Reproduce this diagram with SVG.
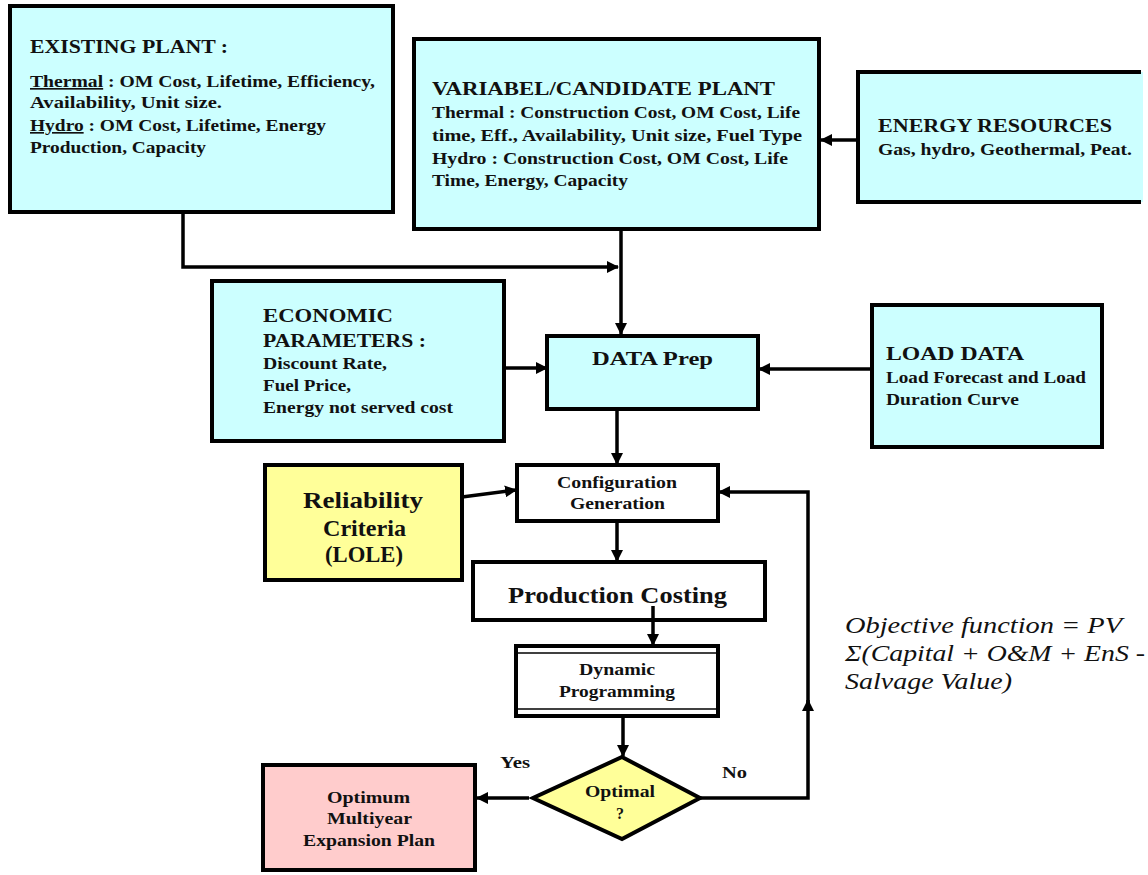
<svg xmlns="http://www.w3.org/2000/svg" width="1148" height="875" viewBox="0 0 1148 875">
<style>
.box{stroke:#000;stroke-width:4}
.cyan{fill:#ccffff}
.yel{fill:#ffff99}
.pink{fill:#ffcccc}
.white{fill:#fff}
text{font-family:"Liberation Serif","Times New Roman",serif;font-weight:bold;fill:#111}
.t{font-size:19.5px}
.b{font-size:16.5px}
.s{font-size:16px}
.c{text-anchor:middle}
.obj{font-size:24px;font-weight:normal;font-style:italic}
.conn path,.conn line,.conn polyline{fill:none;stroke:#000;stroke-width:3.5}
</style>
<defs>
<marker id="ah" viewBox="0 0 12 12" refX="11" refY="6" markerWidth="12" markerHeight="12" markerUnits="userSpaceOnUse" orient="auto">
<path d="M0,0 L12,6 L0,12 z" fill="#000"/>
</marker>
</defs>
<rect width="1148" height="875" fill="#fff"/>

<g class="conn">
<polyline points="183,212 183,267 618,267" marker-end="url(#ah)"/>
<line x1="621" y1="230" x2="621" y2="334" marker-end="url(#ah)"/>
<line x1="858" y1="140" x2="821" y2="140" marker-end="url(#ah)"/>
<line x1="505" y1="368" x2="547" y2="368" marker-end="url(#ah)"/>
<line x1="872" y1="369" x2="759" y2="369" marker-end="url(#ah)"/>
<line x1="617" y1="409" x2="617" y2="464" marker-end="url(#ah)"/>
<line x1="462" y1="497" x2="516" y2="490" marker-end="url(#ah)"/>
<line x1="617" y1="521" x2="617" y2="561" marker-end="url(#ah)"/>
<line x1="653" y1="608" x2="653" y2="645" marker-end="url(#ah)"/>
<line x1="623" y1="716" x2="623" y2="756" marker-end="url(#ah)"/>
<line x1="529" y1="798" x2="477" y2="798" marker-end="url(#ah)"/>
<polyline points="700,798 808,798 808,700" marker-end="url(#ah)"/>
<polyline points="808,703 808,492 719,492" marker-end="url(#ah)"/>
</g>

<g id="existing-plant">
<rect class="box cyan" x="10" y="6" width="383" height="206"/>
<text class="t" x="30" y="53" textLength="198" lengthAdjust="spacingAndGlyphs">EXISTING PLANT :</text>
<text class="b" x="30" y="87" textLength="345" lengthAdjust="spacingAndGlyphs"><tspan text-decoration="underline">Thermal</tspan> : OM Cost, Lifetime, Efficiency,</text>
<text class="b" x="30" y="108" textLength="192" lengthAdjust="spacingAndGlyphs">Availability, Unit size.</text>
<text class="b" x="30" y="131" textLength="296" lengthAdjust="spacingAndGlyphs"><tspan text-decoration="underline">Hydro</tspan> : OM Cost, Lifetime, Energy</text>
<text class="b" x="30" y="153" textLength="176" lengthAdjust="spacingAndGlyphs">Production, Capacity</text>
</g>

<g id="candidate-plant">
<rect class="box cyan" x="414" y="39" width="405" height="190"/>
<text class="t" x="432" y="95" textLength="343" lengthAdjust="spacingAndGlyphs">VARIABEL/CANDIDATE PLANT</text>
<text class="b" x="432" y="118" textLength="368" lengthAdjust="spacingAndGlyphs">Thermal : Construction Cost, OM Cost, Life</text>
<text class="b" x="432" y="141" textLength="370" lengthAdjust="spacingAndGlyphs">time, Eff., Availability, Unit size, Fuel Type</text>
<text class="b" x="432" y="164" textLength="356" lengthAdjust="spacingAndGlyphs">Hydro : Construction  Cost, OM Cost, Life</text>
<text class="b" x="432" y="186" textLength="196" lengthAdjust="spacingAndGlyphs">Time, Energy, Capacity</text>
</g>

<g id="energy-resources">
<rect class="cyan" x="858" y="72" width="285" height="130"/>
<path d="M1141,72 H858 V202 H1141" fill="none" stroke="#000" stroke-width="4"/>
<text class="t" x="878" y="132" textLength="234" lengthAdjust="spacingAndGlyphs">ENERGY RESOURCES</text>
<text class="b" x="878" y="155" textLength="254" lengthAdjust="spacingAndGlyphs">Gas, hydro, Geothermal, Peat.</text>
</g>

<g id="economic-parameters">
<rect class="box cyan" x="212" y="281" width="292" height="160"/>
<text class="t" x="263" y="322" textLength="130" lengthAdjust="spacingAndGlyphs">ECONOMIC</text>
<text class="t" x="263" y="347" textLength="163" lengthAdjust="spacingAndGlyphs">PARAMETERS :</text>
<text class="b" x="263" y="369" textLength="124" lengthAdjust="spacingAndGlyphs">Discount Rate,</text>
<text class="b" x="263" y="391" textLength="88" lengthAdjust="spacingAndGlyphs">Fuel Price,</text>
<text class="b" x="263" y="413" textLength="190" lengthAdjust="spacingAndGlyphs">Energy not served cost</text>
</g>

<g id="data-prep">
<rect class="box cyan" x="547" y="336" width="211" height="73"/>
<text class="t" x="592" y="365" textLength="121" lengthAdjust="spacingAndGlyphs">DATA  Prep</text>
</g>

<g id="load-data">
<rect class="box cyan" x="872" y="305" width="230" height="142"/>
<text class="t" x="886" y="360" textLength="138" lengthAdjust="spacingAndGlyphs">LOAD DATA</text>
<text class="b" x="886" y="383" textLength="200" lengthAdjust="spacingAndGlyphs">Load Forecast and Load</text>
<text class="b" x="886" y="405" textLength="133" lengthAdjust="spacingAndGlyphs">Duration Curve</text>
</g>

<g id="reliability-criteria">
<rect class="box yel" x="265" y="465" width="197" height="115"/>
<text x="303" y="508" style="font-size:24px" textLength="120" lengthAdjust="spacingAndGlyphs">Reliability</text>
<text x="323" y="536" style="font-size:24px" textLength="83" lengthAdjust="spacingAndGlyphs">Criteria</text>
<text x="325" y="562" style="font-size:24px" textLength="78" lengthAdjust="spacingAndGlyphs">(LOLE)</text>
</g>

<g id="configuration-generation">
<rect class="box white" x="517" y="465" width="201" height="56"/>
<text class="s" x="557" y="488" textLength="120" lengthAdjust="spacingAndGlyphs">Configuration</text>
<text class="s" x="570" y="509" textLength="95" lengthAdjust="spacingAndGlyphs">Generation</text>
</g>

<g id="production-costing">
<rect class="box white" x="473" y="562" width="292" height="58"/>
<text x="508" y="603" style="font-size:23px" textLength="219" lengthAdjust="spacingAndGlyphs">Production Costing</text>
</g>
<line x1="653" y1="606" x2="653" y2="620" stroke="#000" stroke-width="3.5"/>

<g id="dynamic-programming">
<rect class="box white" x="516" y="646" width="202" height="70"/>
<line x1="518" y1="653" x2="716" y2="653" stroke="#000" stroke-width="1.5"/>
<line x1="518" y1="709" x2="716" y2="709" stroke="#000" stroke-width="1.5"/>
<text class="s" x="579" y="675" textLength="76" lengthAdjust="spacingAndGlyphs">Dynamic</text>
<text class="s" x="559" y="697" textLength="116" lengthAdjust="spacingAndGlyphs">Programming</text>
</g>

<g id="optimal-decision">
<polygon class="box yel" points="622,757 700,798 622,839 533,798"/>
<text class="s" x="585" y="797" textLength="70" lengthAdjust="spacingAndGlyphs">Optimal</text>
<text class="s c" x="620" y="819">?</text>
</g>

<g id="optimum-plan">
<rect class="box pink" x="263" y="765" width="212" height="105"/>
<text class="s" x="327" y="803" textLength="83" lengthAdjust="spacingAndGlyphs">Optimum</text>
<text class="s" x="327" y="824" textLength="85" lengthAdjust="spacingAndGlyphs">Multiyear</text>
<text class="s" x="303" y="846" textLength="132" lengthAdjust="spacingAndGlyphs">Expansion Plan</text>
</g>

<g id="labels">
<text class="s" x="500" y="768" textLength="30" lengthAdjust="spacingAndGlyphs">Yes</text>
<text class="s" x="722" y="778" textLength="25" lengthAdjust="spacingAndGlyphs">No</text>
<text class="obj" x="845" y="633" textLength="277" lengthAdjust="spacingAndGlyphs">Objective function = PV</text>
<text class="obj" x="845" y="661" textLength="300" lengthAdjust="spacingAndGlyphs">Σ(Capital + O&amp;M + EnS -</text>
<text class="obj" x="845" y="689" textLength="167" lengthAdjust="spacingAndGlyphs">Salvage Value)</text>
</g>
</svg>
